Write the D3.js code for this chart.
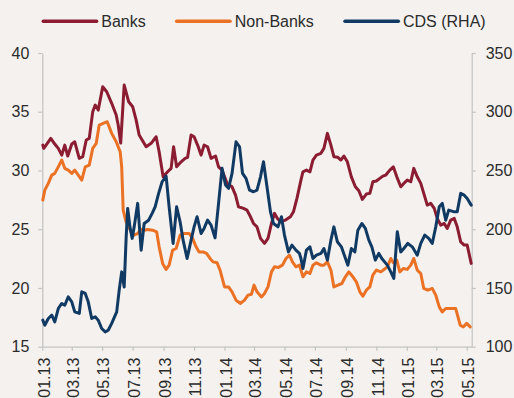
<!DOCTYPE html>
<html><head><meta charset="utf-8">
<script src="https://cdn.jsdelivr.net/npm/d3@7"></script>
<style>
html,body{margin:0;padding:0;background:#F4F1EE;}
svg{display:block;font-family:"Liberation Sans",Arial,sans-serif;}
</style></head>
<body>
<svg id="chart" width="514" height="398"></svg>
<script>
const seriesNames = ["Banks", "Non-Banks", "CDS (RHA)"];
const seriesColors = ["#8B1C31", "#EB7124", "#103A63"];
const leftTicks = [15, 20, 25, 30, 35, 40];
const rightTicks = [100, 150, 200, 250, 300, 350];
const xTickDates = ["2013-01-01","2013-03-01","2013-05-01","2013-07-01","2013-09-01","2013-11-01","2014-01-01","2014-03-01","2014-05-01","2014-07-01","2014-09-01","2014-11-01","2015-01-01","2015-03-01","2015-05-01"];

const banks = [
["2013-01-02",32.16],["2013-01-04",31.88],["2013-01-18",32.73],["2013-01-26",32.25],["2013-02-02",31.88],["2013-02-09",31.31],["2013-02-15",32.16],["2013-02-21",31.23],["2013-03-01",32.25],["2013-03-07",32.44],["2013-03-16",31.03],["2013-03-23",31.17],["2013-03-30",32.59],["2013-04-05",32.73],["2013-04-12",35.0],["2013-04-17",35.57],["2013-04-23",35.14],["2013-05-02",37.13],["2013-05-10",36.70],["2013-05-20",35.72],["2013-05-29",34.72],["2013-06-02",33.87],["2013-06-07",32.33],["2013-06-14",37.27],["2013-06-23",35.85],["2013-07-01",35.43],["2013-07-08",34.29],["2013-07-14",33.02],["2013-07-28",32.02],["2013-08-07",32.31],["2013-08-17",32.87],["2013-08-23",31.59],["2013-08-31",29.46],["2013-09-09",29.89],["2013-09-16",30.18],["2013-09-21",32.02],["2013-09-27",30.31],["2013-10-06",30.74],["2013-10-14",31.03],["2013-10-19",31.12],["2013-10-26",33.02],["2013-11-01",32.87],["2013-11-08",32.16],["2013-11-15",31.31],["2013-11-21",32.16],["2013-11-28",32.02],["2013-12-05",31.03],["2013-12-14",31.23],["2013-12-20",30.31],["2013-12-27",30.03],
["2014-01-06",28.90],["2014-01-16",28.61],["2014-01-23",27.90],["2014-01-29",26.91],["2014-02-08",26.77],["2014-02-15",26.63],["2014-02-22",26.06],["2014-02-28",25.49],["2014-03-07",25.20],["2014-03-14",24.22],["2014-03-22",23.79],["2014-03-29",24.22],["2014-04-05",25.49],["2014-04-11",26.35],["2014-04-17",25.92],["2014-04-23",25.63],["2014-05-03",25.78],["2014-05-13",26.06],["2014-05-19",26.48],["2014-05-26",27.62],["2014-06-03",29.18],["2014-06-07",29.89],["2014-06-14",30.03],["2014-06-21",29.89],["2014-06-27",30.89],["2014-07-04",31.31],["2014-07-13",31.46],["2014-07-19",31.88],["2014-07-26",33.16],["2014-08-02",32.16],["2014-08-08",31.17],["2014-08-16",31.12],["2014-08-22",30.89],["2014-08-28",31.23],["2014-09-04",30.74],["2014-09-12",29.46],["2014-09-20",28.61],["2014-09-27",28.27],["2014-10-04",27.54],["2014-10-12",27.99],["2014-10-19",28.05],["2014-10-25",29.04],["2014-11-01",29.10],["2014-11-08",29.33],["2014-11-14",29.52],["2014-11-20",29.61],["2014-11-28",30.03],["2014-12-05",30.31],["2014-12-12",29.46],["2014-12-20",28.61],["2014-12-26",28.90],
["2015-01-02",29.18],["2015-01-09",29.04],["2015-01-15",30.18],["2015-01-22",29.46],["2015-01-29",28.90],["2015-02-04",28.05],["2015-02-11",27.05],["2015-02-18",27.20],["2015-02-25",26.77],["2015-03-03",25.92],["2015-03-10",25.35],["2015-03-17",25.49],["2015-03-23",25.07],["2015-03-30",25.78],["2015-04-06",25.92],["2015-04-12",25.20],["2015-04-19",23.93],["2015-04-26",23.65],["2015-05-02",23.65],["2015-05-10",22.09]
];

const nonBanks = [
["2013-01-02",27.48],["2013-01-06",28.33],["2013-01-13",28.90],["2013-01-20",29.61],["2013-01-26",29.75],["2013-02-02",30.31],["2013-02-09",30.89],["2013-02-15",30.18],["2013-02-22",30.03],["2013-03-01",29.75],["2013-03-07",30.03],["2013-03-14",29.61],["2013-03-21",29.18],["2013-03-28",30.31],["2013-04-05",30.46],["2013-04-12",31.88],["2013-04-19",32.31],["2013-04-25",33.87],["2013-05-03",34.01],["2013-05-11",34.15],["2013-05-20",33.16],["2013-05-29",32.44],["2013-06-06",31.59],["2013-06-09",30.31],["2013-06-12",26.63],["2013-06-18",25.60],["2013-06-28",24.78],["2013-07-04",24.50],["2013-07-11",24.64],["2013-07-18",24.98],["2013-07-24",24.92],["2013-07-31",24.98],["2013-08-10",24.92],["2013-08-18",24.78],["2013-08-23",23.50],["2013-08-30",22.09],["2013-09-06",21.58],["2013-09-12",21.94],["2013-09-19",23.22],["2013-09-26",23.36],["2013-10-04",24.50],["2013-10-12",24.64],["2013-10-22",24.64],["2013-10-29",24.22],["2013-11-05",23.50],["2013-11-11",23.07],["2013-11-19",23.07],["2013-11-26",22.94],["2013-12-03",22.51],["2013-12-09",22.22],["2013-12-17",22.14],["2013-12-23",21.52],
["2014-01-01",20.09],["2014-01-09",20.09],["2014-01-16",19.67],["2014-01-24",18.96],["2014-02-02",18.68],["2014-02-10",18.96],["2014-02-17",19.39],["2014-02-24",19.47],["2014-03-01",20.24],["2014-03-07",19.67],["2014-03-16",19.24],["2014-03-22",19.53],["2014-03-29",20.09],["2014-04-05",21.37],["2014-04-11",21.80],["2014-04-19",21.75],["2014-04-27",21.94],["2014-05-04",22.51],["2014-05-11",22.79],["2014-05-17",22.22],["2014-05-24",21.80],["2014-05-31",21.94],["2014-06-03",21.52],["2014-06-07",20.95],["2014-06-14",21.37],["2014-06-21",21.23],["2014-06-27",21.94],["2014-07-04",22.14],["2014-07-13",21.94],["2014-07-19",21.94],["2014-07-26",22.22],["2014-08-02",21.52],["2014-08-08",20.09],["2014-08-16",20.24],["2014-08-24",20.38],["2014-08-31",20.95],["2014-09-07",21.37],["2014-09-15",20.95],["2014-09-22",20.52],["2014-09-29",19.67],["2014-10-05",19.30],["2014-10-12",19.81],["2014-10-19",20.09],["2014-10-25",21.09],["2014-11-01",21.52],["2014-11-10",21.37],["2014-11-19",21.66],["2014-11-23",21.80],["2014-11-30",22.51],["2014-12-05",22.14],["2014-12-12",22.37],["2014-12-18",21.37],["2014-12-25",21.66],
["2015-01-02",21.58],["2015-01-09",21.94],["2015-01-15",22.51],["2015-01-22",21.52],["2015-01-29",21.23],["2015-02-04",19.96],["2015-02-12",19.81],["2015-02-21",19.96],["2015-02-28",19.39],["2015-03-07",18.39],["2015-03-13",17.96],["2015-03-20",18.25],["2015-03-30",18.25],["2015-04-09",18.25],["2015-04-18",16.83],["2015-04-24",16.69],["2015-05-01",16.98],["2015-05-08",16.69]
];

const cds = [
["2013-01-02",122.6],["2013-01-06",118.3],["2013-01-13",124.0],["2013-01-20",126.8],["2013-01-26",121.1],["2013-02-02",132.5],["2013-02-09",136.8],["2013-02-15",135.3],["2013-02-22",142.4],["2013-03-01",138.2],["2013-03-07",129.6],["2013-03-16",128.3],["2013-03-21",146.7],["2013-03-28",145.3],["2013-04-03",138.2],["2013-04-10",124.0],["2013-04-17",125.4],["2013-04-23",122.6],["2013-04-30",115.5],["2013-05-07",112.6],["2013-05-13",114.0],["2013-05-20",119.8],["2013-05-30",129.6],["2013-06-04",148.1],["2013-06-09",163.7],["2013-06-14",150.9],["2013-06-18",193.5],["2013-06-21",217.7],["2013-06-26",200.7],["2013-06-30",192.2],["2013-07-04",202.0],["2013-07-11",222.0],["2013-07-18",182.2],["2013-07-24",204.9],["2013-08-02",207.7],["2013-08-09",213.5],["2013-08-15",219.1],["2013-08-22",230.5],["2013-08-29",240.4],["2013-09-06",245.2],["2013-09-12",219.1],["2013-09-20",187.9],["2013-09-27",219.1],["2013-10-04",206.3],["2013-10-10",190.7],["2013-10-18",175.1],["2013-10-26",190.7],["2013-11-01",202.0],["2013-11-07",210.6],["2013-11-15",196.4],["2013-11-21",200.7],["2013-11-28",207.7],["2013-12-05",203.5],["2013-12-13",192.6],["2013-12-20",222.0],["2013-12-27",251.8],
["2014-01-03",237.6],["2014-01-09",234.8],["2014-01-16",247.5],["2014-01-24",274.4],["2014-01-31",270.2],["2014-02-06",247.5],["2014-02-13",243.3],["2014-02-20",233.3],["2014-02-28",231.9],["2014-03-07",233.3],["2014-03-14",244.6],["2014-03-20",257.4],["2014-03-27",236.1],["2014-04-03",214.8],["2014-04-09",204.9],["2014-04-18",202.0],["2014-04-25",210.6],["2014-05-01",195.0],["2014-05-09",180.7],["2014-05-16",186.5],["2014-05-24",182.2],["2014-05-31",179.4],["2014-06-03",175.1],["2014-06-07",166.6],["2014-06-14",182.2],["2014-06-21",185.0],["2014-06-27",175.1],["2014-07-04",177.9],["2014-07-13",179.4],["2014-07-19",183.6],["2014-07-26",173.7],["2014-08-02",190.7],["2014-08-08",202.0],["2014-08-15",189.3],["2014-08-23",185.0],["2014-08-30",176.5],["2014-09-05",169.4],["2014-09-12",183.6],["2014-09-19",180.7],["2014-09-25",199.2],["2014-10-03",204.9],["2014-10-10",200.7],["2014-10-17",190.7],["2014-10-23",185.0],["2014-10-30",173.7],["2014-11-06",179.4],["2014-11-12",175.1],["2014-11-18",172.0],["2014-11-23",169.4],["2014-11-30",163.7],["2014-12-06",158.1],["2014-12-13",197.8],["2014-12-20",180.7],["2014-12-26",183.6],
["2015-01-03",187.9],["2015-01-12",185.0],["2015-01-22",177.9],["2015-01-29",187.9],["2015-02-06",195.0],["2015-02-14",192.2],["2015-02-21",187.9],["2015-02-28",202.0],["2015-03-07",219.1],["2015-03-13",222.0],["2015-03-20",207.7],["2015-03-26",216.3],["2015-04-06",214.8],["2015-04-12",214.8],["2015-04-19",230.5],["2015-04-26",229.0],["2015-05-02",226.2],["2015-05-10",220.5]
];

const parse = d3.timeParse("%Y-%m-%d");
const svg = d3.select("#chart");
const axisColor = "#C4C4C4";
const textColor = "#2B2B2B";

const x = d3.scaleTime()
  .domain([parse("2013-01-01"), parse("2015-05-11")])
  .range([42.3, 471.7]);
const yL = d3.scaleLinear().domain([15, 40]).range([346.7, 53]);
const yR = d3.scaleLinear().domain([100, 350]).range([346.7, 53]);

function styleAxis(g) {
  g.selectAll("path.domain").attr("stroke", axisColor).attr("stroke-width", 1.2);
  g.selectAll(".tick line").attr("stroke", axisColor).attr("stroke-width", 1.2);
  g.selectAll(".tick text").attr("fill", textColor).style("font-size", "16px")
    .style("font-family", '"Liberation Sans", Arial, sans-serif');
}

const gx = svg.append("g").attr("transform", "translate(0,346.7)")
  .call(d3.axisBottom(x).tickValues(xTickDates.map(parse)).tickSize(4).tickSizeOuter(0)
    .tickFormat(d3.timeFormat("%m.%y")));
styleAxis(gx);
gx.selectAll(".tick text")
  .attr("transform", "rotate(-90)")
  .attr("text-anchor", "end")
  .attr("x", -11).attr("y", 0).attr("dy", "0.42em");

const gl = svg.append("g").attr("transform", "translate(42.3,0)")
  .call(d3.axisLeft(yL).tickValues(leftTicks).tickSize(4).tickSizeOuter(0).tickPadding(9));
styleAxis(gl);

const gr = svg.append("g").attr("transform", "translate(471.7,0)")
  .call(d3.axisRight(yR).tickValues(rightTicks).tickSize(4).tickSizeOuter(0).tickPadding(10));
styleAxis(gr);

const lineL = d3.line().x(d => x(parse(d[0]))).y(d => yL(d[1]));
const lineR = d3.line().x(d => x(parse(d[0]))).y(d => yR(d[1]));

const series = [
  {data: banks, line: lineL, color: seriesColors[0]},
  {data: nonBanks, line: lineL, color: seriesColors[1]},
  {data: cds, line: lineR, color: seriesColors[2]}
];
series.forEach(s => {
  svg.append("path").datum(s.data)
    .attr("fill", "none").attr("stroke", s.color).attr("stroke-width", 3)
    .attr("stroke-linejoin", "round").attr("stroke-linecap", "round")
    .attr("d", s.line);
});

// legend
const legendX = [43.3, 176.7, 345];
const legend = svg.append("g");
seriesNames.forEach((name, i) => {
  const g = legend.append("g").attr("transform", `translate(${legendX[i]},21.3)`);
  g.append("line").attr("x1", 0).attr("x2", 53.3).attr("y1", 0).attr("y2", 0)
    .attr("stroke", seriesColors[i]).attr("stroke-width", 3.5).attr("stroke-linecap", "round");
  g.append("text").attr("x", 58).attr("y", 0).attr("dy", "0.36em")
    .attr("fill", textColor).style("font-size", "16px").text(name);
});
</script>
</body></html>
